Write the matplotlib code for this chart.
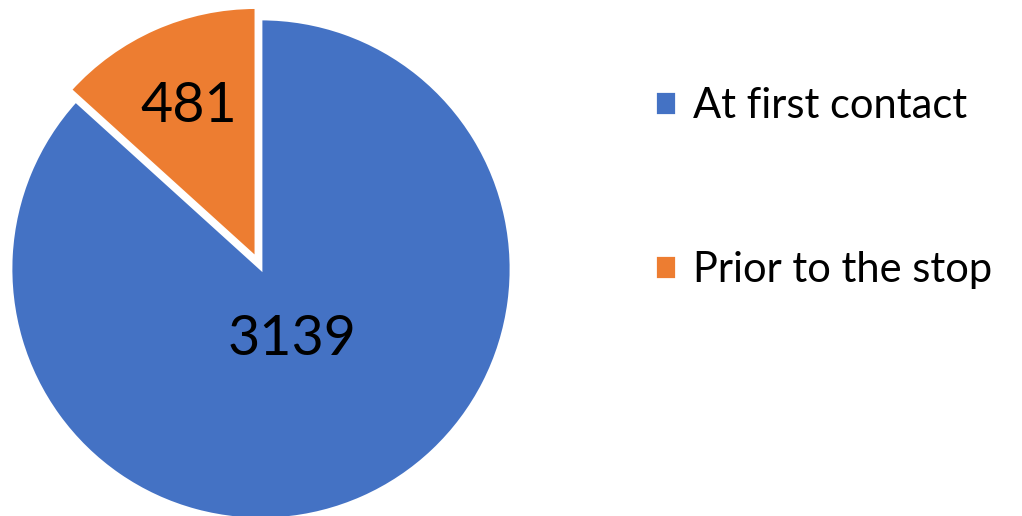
import matplotlib.pyplot as plt
import numpy as np

# data
categories = ['At first contact', 'Prior to the stop']
counts = [3139, 481]
colors = ['#4472C4', '#ED7D31']
explode = [0.0, 0.05]
label_dist = [0.31, 0.66]   # label distance from wedge tip, as fraction of radius

plt.rcParams['font.family'] = ['Lato', 'DejaVu Sans']

fig = plt.figure(figsize=(10.22, 5.16), dpi=100)
# pie centre at about (261, 269) px, radius 250 px
ax = fig.add_axes([11 / 1022, -3 / 516, 500 / 1022, 500 / 516])

wedges, _ = ax.pie(counts, colors=colors, explode=explode, startangle=90,
                   counterclock=False,
                   wedgeprops=dict(edgecolor='white', linewidth=2))
for w in wedges:
    w.set_clip_on(False)
ax.set_xlim(-1, 1)
ax.set_ylim(-1, 1)
ax.set_aspect('equal')

# value labels placed along each wedge's bisector
for w, n, d in zip(wedges, counts, label_dist):
    ang = np.deg2rad((w.theta1 + w.theta2) / 2)
    cx, cy = w.center
    ax.text(cx + d * np.cos(ang), cy + d * np.sin(ang), str(n),
            ha='center', va='center', fontsize=40, color='black')

fig.legend(wedges, categories, loc='upper left',
           bbox_to_anchor=(655 / 1022, 1 - 87 / 516),
           frameon=False, fontsize=30, handlelength=0.5, handleheight=0.5,
           handletextpad=0.4, labelspacing=3.02, borderaxespad=0,
           borderpad=0)

fig.savefig('out.png', dpi=100)
